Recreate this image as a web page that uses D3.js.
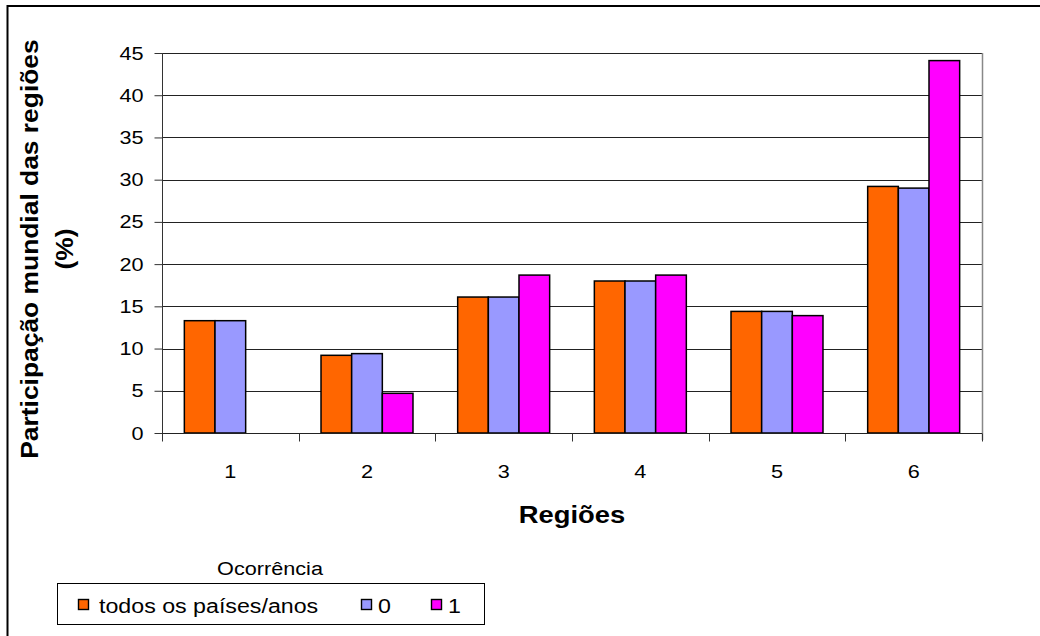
<!DOCTYPE html>
<html>
<head>
<meta charset="utf-8">
<script src="https://cdn.jsdelivr.net/npm/d3@7"></script>
<style>
  html, body { margin: 0; padding: 0; background: #fff; }
  svg { display: block; font-family: Arial, "Liberation Sans", sans-serif; }
</style>
</head>
<body>
<svg id="chart" width="1040" height="636"></svg>
<script>
const categories = ["1", "2", "3", "4", "5", "6"];
const seriesNames = ["todos os países/anos", "0", "1"];
const seriesColors = ["#FF6600", "#9999FF", "#FF00FF"];
const todos = [13.3, 9.2, 16.1, 18.0, 14.4, 29.2];
const zero = [13.3, 9.4, 16.1, 18.0, 14.4, 29.0];
const um = [null, 4.7, 18.7, 18.7, 13.9, 44.1];
const yTicks = [0, 5, 10, 15, 20, 25, 30, 35, 40, 45];

const seriesValues = [todos, zero, um];

const svg = d3.select("#chart");
const W = 1040, H = 636;
const plot = { left: 162, right: 982, top: 53, bottom: 433 };
const SX = 1.14; // horizontal glyph widening to match reference text widths

// outer frame
svg.append("rect").attr("x", 7.5).attr("y", 6).attr("width", W + 10).attr("height", H + 10)
  .attr("fill", "#fff").attr("stroke", "#000").attr("stroke-width", 2);

const x0 = d3.scaleBand().domain(categories).range([plot.left, plot.right])
  .paddingInner(0.327).paddingOuter(0.1635);
const x1 = d3.scaleBand().domain(d3.range(seriesNames.length)).range([0, x0.bandwidth()]);
const y = d3.scaleLinear().domain([0, 45]).range([plot.bottom, plot.top]);
const step = x0.step();

function label(parent, x, yy, txt, size, anchor, weight, sx) {
  return parent.append("text")
    .attr("transform", `translate(${x},${yy}) scale(${sx || SX},1)`)
    .attr("text-anchor", anchor || "start")
    .attr("font-size", size)
    .attr("font-weight", weight || "normal")
    .attr("fill", "#000")
    .text(txt);
}

// gridlines
svg.append("g").selectAll("line").data(yTicks.filter(d => d > 0)).join("line")
  .attr("x1", plot.left).attr("x2", plot.right)
  .attr("y1", d => Math.round(y(d)) + 0.5).attr("y2", d => Math.round(y(d)) + 0.5)
  .attr("stroke", "#222").attr("stroke-width", 1);

// plot area right border
svg.append("line").attr("x1", plot.right + 0.5).attr("x2", plot.right + 0.5)
  .attr("y1", plot.top).attr("y2", plot.bottom + 7)
  .attr("stroke", "#888").attr("stroke-width", 1.5);

// bars
const groups = svg.append("g").selectAll("g").data(categories).join("g")
  .attr("transform", d => `translate(${x0(d)},0)`);
groups.selectAll("rect").data((c, i) => seriesValues.map((s, k) => ({ k, v: s[i] })).filter(d => d.v != null))
  .join("rect")
  .attr("x", d => x1(d.k))
  .attr("y", d => y(d.v))
  .attr("width", x1.bandwidth())
  .attr("height", d => y(0) - y(d.v))
  .attr("fill", d => seriesColors[d.k])
  .attr("stroke", "#000").attr("stroke-width", 1.5);

// y axis
const yAxis = d3.axisLeft(y).tickValues(yTicks).tickSize(8).tickPadding(11);
const gy = svg.append("g").attr("transform", `translate(${plot.left + 0.5},0)`).call(yAxis);
gy.select(".domain").attr("stroke", "#333").attr("d", `M0,${plot.top}V${plot.bottom + 8}`);
gy.selectAll(".tick line").attr("stroke", "#333");
gy.selectAll(".tick text")
  .attr("x", null)
  .attr("transform", `translate(-19,0) scale(${SX},1)`)
  .attr("font-size", 19).attr("fill", "#000")
  .attr("font-family", "Arial, 'Liberation Sans', sans-serif");

// x axis
const gx = svg.append("g").attr("transform", `translate(0,${plot.bottom + 0.5})`);
gx.append("line").attr("x1", plot.left).attr("x2", plot.right)
  .attr("stroke", "#222").attr("stroke-width", 1.2);
const boundaries = d3.range(categories.length + 1).map(i => plot.left + i * step);
gx.selectAll("line.tk").data(boundaries).join("line").attr("class", "tk")
  .attr("x1", d => Math.round(d) + 0.5).attr("x2", d => Math.round(d) + 0.5)
  .attr("y1", 0).attr("y2", 8).attr("stroke", "#333");
categories.forEach(c => label(gx, x0(c) + x0.bandwidth() / 2, 44, c, 19, "middle"));

// axis titles
label(svg, (plot.left + plot.right) / 2, 523, "Regiões", 24, "middle", "bold");
const yt = svg.append("text")
  .attr("transform", `translate(0,249) rotate(-90) scale(1.1,1)`)
  .attr("text-anchor", "middle").attr("font-size", 24).attr("font-weight", "bold");
yt.append("tspan").attr("x", 0).attr("y", 38).text("Participação mundial das regiões");
yt.append("tspan").attr("x", 0).attr("y", 73.5).text("(%)");

// legend
label(svg, 270, 575, "Ocorrência", 19, "middle");
svg.append("rect").attr("x", 57.5).attr("y", 583.5).attr("width", 427).attr("height", 41)
  .attr("fill", "#fff").attr("stroke", "#000").attr("stroke-width", 1);
const legendX = [78, 361, 431];
const legendTextX = [99, 378, 448];
const leg = svg.append("g");
seriesNames.forEach((name, i) => {
  leg.append("rect").attr("x", legendX[i] + 0.5).attr("y", 599.5).attr("width", 10).attr("height", 10)
    .attr("fill", seriesColors[i]).attr("stroke", "#000").attr("stroke-width", 1.4);
  label(leg, legendTextX[i], 612.5, name, 19.5, "start", "normal", 1.19);
});
</script>
</body>
</html>
